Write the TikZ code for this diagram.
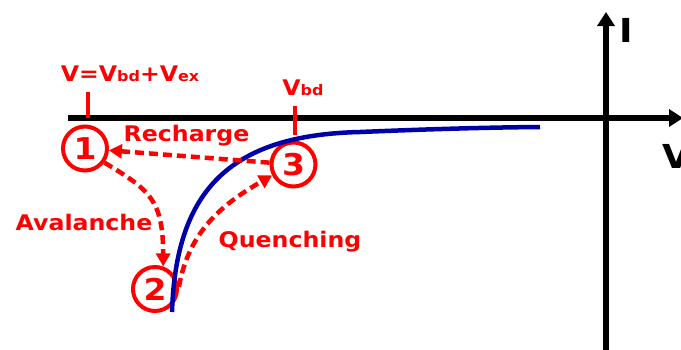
\documentclass[tikz,border=0pt]{standalone}
\usepackage{fontspec}
\setmainfont{DejaVu Sans}[FakeStretch=1.1]
\usetikzlibrary{arrows.meta}
\definecolor{curveblue}{RGB}{0,0,170}
\newcommand{\lowtxt}[1]{{\fontsize{14.5}{14.5}\selectfont #1}}

\begin{document}
\begin{tikzpicture}[x=1pt,y=-1pt,
    axis/.style={line width=5.5pt,-{Triangle[length=14pt,width=17pt]}},
    axlbl/.style={font=\fontsize{33}{33}\selectfont\bfseries,inner sep=0pt},
    state/.style={circle,draw=red,line width=4pt,minimum size=44pt,inner sep=0pt,text=red,font=\fontsize{30}{30}\selectfont\bfseries},
    lbl/.style={text=red,font=\fontsize{21.5}{21.5}\selectfont\bfseries,inner sep=0pt,anchor=base},
    flow/.style={red,line width=4.5pt,dash pattern=on 9pt off 5pt,-{Triangle[length=13pt,width=14pt]}},
    tickline/.style={red,line width=4.5pt},
    ivcurve/.style={curveblue,line width=4.5pt}]
    \useasboundingbox (0,0) rectangle (681,349);

    % axes
    \coordinate (hstart) at (68,118);
    \coordinate (hend) at (683,118);
    \coordinate (vstart) at (606,352);
    \coordinate (vend) at (606,12);
    \draw[axis] (hstart) -- (hend);
    \draw[axis] (vstart) -- (vend);
    \node[axlbl,anchor=base] (ilbl) at (626.5,42) {I};
    \node[axlbl,anchor=base west] (vlbl) at (662,168) {V};

    % states
    \node[state] (s1) at (85,148.5) {1};
    \node[state] (s2) at (155,289) {2};
    \node[state] (s3) at (293.5,164.5) {3};

    % curve
    \draw[ivcurve] (172,312) .. controls (176,190) and (230,135) .. (360,132)
        .. controls (420,129.5) and (480,127.5) .. (540,127);

    % ticks
    \coordinate (t1top) at (88,92);
    \coordinate (t1bot) at (88,118);
    \coordinate (t2top) at (295,106);
    \coordinate (t2bot) at (295,135);
    \draw[tickline] (t1top) -- (t1bot);
    \draw[tickline] (t2top) -- (t2bot);

    % arrows
    \draw[flow] (s3) -- (s1);
    \draw[flow] (s1.-36) .. controls (150,190) and (163,200) .. (s2.70);
    \draw[flow] (s2.5) to[out=80,in=210] (s3.207);

    % labels
    \node[lbl] (vex) at (130,81) {V=V\lowtxt{bd}+V\lowtxt{ex}};
    \node[lbl] (vbd) at (303,95) {V\lowtxt{bd}};
    \node[lbl] (rech) at (186.5,141.7) {Recharge};
    \node[lbl] (aval) at (84,230) {Avalanche};
    \node[lbl] (quen) at (290,247.5) {Quenching};
\end{tikzpicture}
\end{document}
